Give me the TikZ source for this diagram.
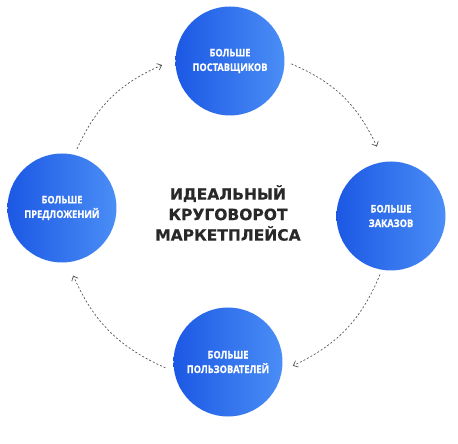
\documentclass[tikz,border=0pt]{standalone}
\usepackage{fontspec}
\newfontfamily\circfont[FakeStretch=0.88,FakeBold=0.6]{Open Sans}
\newfontfamily\titlefont[FakeBold=0.5]{DejaVu Sans}
\usetikzlibrary{arrows.meta}
\definecolor{blueA}{RGB}{28,88,228}
\definecolor{blueB}{RGB}{74,142,246}
\definecolor{arrowgray}{RGB}{85,85,85}
\definecolor{titlegray}{RGB}{40,40,40}
\tikzset{
  bubble/.style={circle, minimum size=109pt, inner sep=0pt, left color=blueA, right color=blueB, draw=none,
    text=white, align=center, font=\circfont\bfseries\fontsize{10.5}{14.5}\selectfont},
  flow/.style={draw=arrowgray, line width=0.7pt, dash pattern=on 2pt off 2pt, -{Straight Barb[length=4pt,width=7pt,line width=0.7pt]}},
}
\begin{document}
\begin{tikzpicture}[x=1pt,y=1pt]
\useasboundingbox (-228,-231) rectangle (230,213);
\node[bubble] (top) at (2,152) {БОЛЬШЕ\\ПОСТАВЩИКОВ};
\node[bubble] (right) at (163,-3) {БОЛЬШЕ\\ЗАКАЗОВ};
\node[bubble] (bottom) at (0,-149) {БОЛЬШЕ\\ПОЛЬЗОВАТЕЛЕЙ};
\node[bubble] (left) at (-166,5) {БОЛЬШЕ\\ПРЕДЛОЖЕНИЙ};
\node[align=center, text=titlegray, font=\titlefont\bfseries\fontsize{15.5}{20.5}\selectfont] (title) at (0,0) {ИДЕАЛЬНЫЙ\\КРУГОВОРОТ\\МАРКЕТПЛЕЙСА};
\coordinate (a1s) at (157:164);
\coordinate (a1e) at (114:162);
\coordinate (a2s) at (67:162);
\coordinate (a2e) at (24:163);
\coordinate (a3s) at (-22:164);
\coordinate (a3e) at (-67:166);
\coordinate (a4s) at (-112:167);
\coordinate (a4e) at (-158:167);
\draw[flow] (a1s) to[bend left=21] (a1e);
\draw[flow] (a2s) to[bend left=21] (a2e);
\draw[flow] (a3s) to[bend left=21] (a3e);
\draw[flow] (a4s) to[bend left=21] (a4e);
\end{tikzpicture}
\end{document}
